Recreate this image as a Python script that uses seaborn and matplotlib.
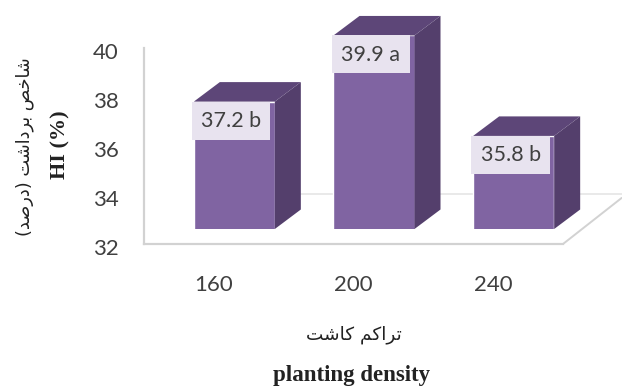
import matplotlib
matplotlib.use("Agg")
import matplotlib.pyplot as plt
from matplotlib.patches import Polygon, Rectangle
import seaborn as sns

densities = ["160", "200", "240"]
hi_values = [37.2, 39.9, 35.8]
groups = ["b", "a", "b"]
y_ticks = [32, 34, 36, 38, 40]

# Persian titles in visual order, written with contextual glyph forms
fa_xlabel = "\uFE97\uFEAE\uFE8D\uFB90\uFEE2 \uFB90\uFE8E\uFEB7\uFE96"[::-1]
fa_ylabel = ("\uFEB7\uFE8E\uFEA7\uFEBA \uFE91\uFEAE\uFEA9\uFE8D\uFEB7\uFE96 "
             "(\uFEA9\uFEAD\uFEBB\uFEAA)")
fa_ylabel = fa_ylabel[::-1].replace("(", "\0").replace(")", "(").replace("\0", ")")

W, H = 622, 386
FRONT = "#8064A2"
SIDE = "#543F6C"
TOP = "#5D4678"
LABEL_BG = "#E8E3EF"
AXIS = "#D2D2D2"
TEXT = "#404040"


def px_axes(fig, left, top, right, bottom, **kw):
    return fig.add_axes([left / W, 1 - bottom / H, (right - left) / W, (bottom - top) / H], **kw)


sns.set_theme(style="white")
plt.rcParams["font.family"] = ["Lato", "DejaVu Sans"]
fig = plt.figure(figsize=(W / 100, H / 100), dpi=100, facecolor="white")

# Back wall: carries the ticks, the axis line and the receding floor
wall = px_axes(fig, 144, 48, 563, 244)
wall.set_xlim(-0.5, 2.5)
wall.set_ylim(32, 40)
wall.set_xticks(range(len(densities)), densities)
wall.set_yticks(y_ticks)
wall.tick_params(axis="both", length=0, labelsize=16, labelcolor=TEXT)
wall.tick_params(axis="x", pad=22)
wall.tick_params(axis="y", pad=18)
for label in wall.get_yticklabels():
    label.set_verticalalignment("center")
    label.set_transform(label.get_transform() + matplotlib.transforms.Affine2D().translate(0, -5))
for name in ("top", "right"):
    wall.spines[name].set_visible(False)
for name in ("left", "bottom"):
    wall.spines[name].set_color(AXIS)
    wall.spines[name].set_linewidth(1.6)
wall.plot([2.5, 2.92], [32, 33.88], color=AXIS, lw=1.4, clip_on=False)
wall.plot([0.5, 3.0], [34.05, 34.05], color="#E3E3E3", lw=1.1, clip_on=False, zorder=0)

# Front plane: the bars, shifted forward from the wall
front = px_axes(fig, 164.5, 33, 583.5, 229)
front.patch.set_alpha(0)
sns.barplot(x=densities, y=hi_values, color=FRONT, saturation=1, width=0.58,
            ax=front, zorder=3)
front.set_xlim(-0.5, 2.5)
front.set_ylim(32, 40)
front.axis("off")

# Depth of the extruded faces in data units
depth_x = 26 / (419 / 3)
depth_y = 19.5 / (196 / 8)

for bar, value, group in zip(front.patches, hi_values, groups):
    x0 = bar.get_x()
    x1 = x0 + bar.get_width()
    front.add_patch(Polygon(
        [(x1, 32), (x1 + depth_x, 32 + depth_y), (x1 + depth_x, value + depth_y), (x1, value)],
        closed=True, facecolor=SIDE, edgecolor="none", clip_on=False, zorder=3))
    front.add_patch(Polygon(
        [(x0, value), (x0 + depth_x, value + depth_y), (x1 + depth_x, value + depth_y), (x1, value)],
        closed=True, facecolor=TOP, edgecolor="none", clip_on=False, zorder=3))
    # Label plate hanging from the top edge of the bar
    front.add_patch(Rectangle((x0 - 0.012, value - 1.55), bar.get_width() - 0.02, 1.55,
                              facecolor=LABEL_BG, edgecolor="none", clip_on=False, zorder=4))
    front.text((x0 + x1) / 2 - 0.022, value - 0.79, f"{value} {group}", ha="center", va="center",
               fontsize=15.5, color=TEXT, zorder=5, clip_on=False)

# Bilingual axis titles
fig.text(60 / W, 1 - 145 / H, "HI (%)", rotation=90, ha="center", va="center",
         family="Liberation Serif", fontweight="bold", fontsize=16, color="#222222")
fig.text(25 / W, 1 - 147 / H, fa_ylabel, rotation=90, ha="center", va="center",
         family="DejaVu Sans", fontsize=12.8, color="#222222")
fig.text(354 / W, 1 - 335 / H, fa_xlabel, ha="center", va="center",
         family="DejaVu Sans", fontsize=13.3, color="#222222")
fig.text(352 / W, 1 - 376 / H, "planting density", ha="center", va="center",
         family="Liberation Serif", fontweight="bold", fontsize=16.5, color="#222222")

fig.savefig("out.png", dpi=100, facecolor="white")
